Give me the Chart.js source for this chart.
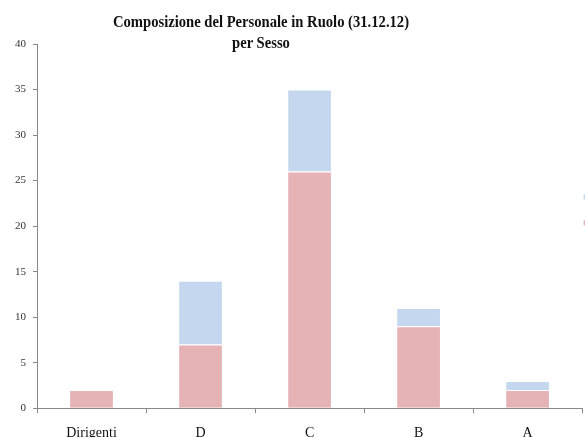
<!DOCTYPE html>
<html>
<head>
<meta charset="utf-8">
<script src="https://cdn.jsdelivr.net/npm/chart.js@4/dist/chart.umd.min.js"></script>
<style>
  html, body { margin: 0; padding: 0; overflow: hidden; background: #fff; width: 585px; height: 437px; }
  #wrap { position: absolute; left: 0; top: 0; width: 690px; height: 454px; }
  #titolo {
    position: absolute; left: 0; top: 11px; width: 522px;
    text-align: center; font-family: "Liberation Serif", serif; font-weight: bold;
    font-size: 17px; line-height: 21px; color: #111;
    transform: scaleX(0.86); transform-origin: 261px 0;
  }
</style>
</head>
<body>
<div id="wrap">
  <canvas id="grafico" width="690" height="454"></canvas>
</div>
<div id="titolo">Composizione del Personale in Ruolo (31.12.12)<br>per Sesso</div>
<script>
const categorie = ['Dirigenti', 'D', 'C', 'B', 'A'];
const donne = [2, 7, 26, 9, 2];
const uomini = [0, 7, 9, 2, 1];
const tickY = [0, 5, 10, 15, 20, 25, 30, 35, 40];

const ctx = document.getElementById('grafico').getContext('2d');

const chart = new Chart(ctx, {
  type: 'bar',
  data: {
    labels: categorie,
    datasets: [
      {
        label: 'Donne',
        data: donne,
        backgroundColor: 'rgb(229, 178, 181)',
        borderColor: 'rgba(255, 255, 255, 0.9)',
        borderWidth: 1,
        barPercentage: 0.41,
        categoryPercentage: 1
      },
      {
        label: 'Uomini',
        data: uomini,
        backgroundColor: 'rgb(196, 215, 238)',
        borderColor: 'rgba(255, 255, 255, 0.9)',
        borderWidth: 1,
        barPercentage: 0.41,
        categoryPercentage: 1
      }
    ]
  },
  options: {
    responsive: false,
    animation: false,
    devicePixelRatio: 1,
    layout: { padding: { top: 44, left: 8, right: 0, bottom: 0 } },
    plugins: {
      title: { display: false },
      tooltip: { enabled: false },
      legend: {
        position: 'right',
        align: 'start',
        fullSize: false,
        reverse: true,
        title: { display: true, text: '', padding: { top: 0, bottom: 125 } },
        labels: {
          boxWidth: 8,
          boxHeight: 6,
          padding: 1,
          color: '#333',
          font: { family: 'Liberation Serif', size: 25 }
        }
      }
    },
    scales: {
      x: {
        stacked: true,
        grid: { drawOnChartArea: false, tickLength: 5, color: '#888' },
        border: { color: '#888' },
        ticks: {
          padding: 12,
          color: '#111',
          font: { family: 'Liberation Serif', size: 14 }
        }
      },
      y: {
        stacked: true,
        min: 0,
        max: 40,
        afterBuildTicks: (axis) => { axis.ticks = tickY.map(v => ({ value: v })); },
        grid: { drawOnChartArea: false, tickLength: 4, color: '#888' },
        border: { color: '#888' },
        ticks: {
          padding: 7,
          color: '#333',
          font: { family: 'Liberation Serif', size: 11 }
        }
      }
    }
  }
});
</script>
</body>
</html>
